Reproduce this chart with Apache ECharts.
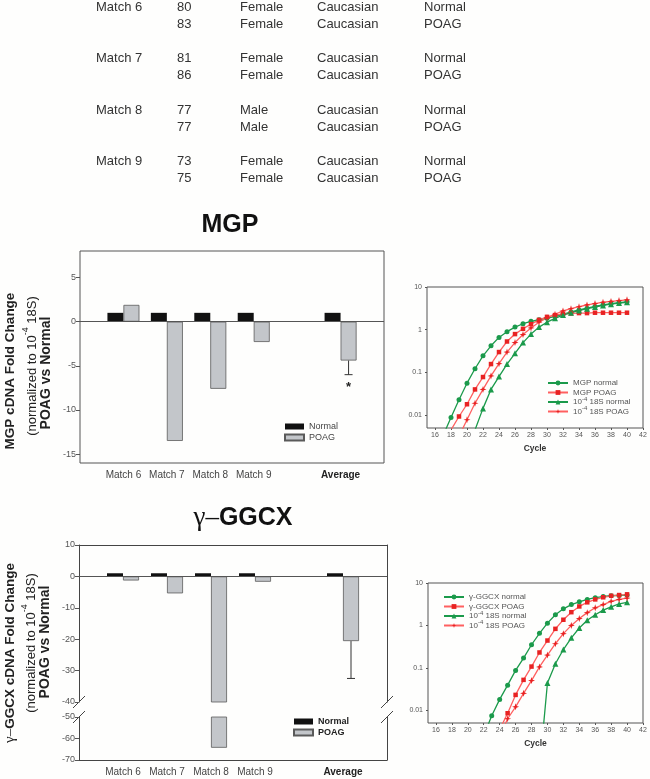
<!DOCTYPE html>
<html><head><meta charset="utf-8">
<script src="https://cdn.jsdelivr.net/npm/echarts@6/dist/echarts.min.js"></script>
<style>html,body{margin:0;padding:0;background:#fefefd;} #c{width:650px;height:779px;}</style>
</head><body><div id="c"></div>
<script>
// ---------- DATA ----------
const tableMatch = ['Match 6', 'Match 7', 'Match 8', 'Match 9'];
const tableAge = [[80, 83], [81, 86], [77, 77], [73, 75]];
const tableSex = [['Female', 'Female'], ['Female', 'Female'], ['Male', 'Male'], ['Female', 'Female']];
const tableRace = [['Caucasian', 'Caucasian'], ['Caucasian', 'Caucasian'], ['Caucasian', 'Caucasian'], ['Caucasian', 'Caucasian']];
const tableStatus = [['Normal', 'POAG'], ['Normal', 'POAG'], ['Normal', 'POAG'], ['Normal', 'POAG']];

const barCategories = ['', 'Match 6', 'Match 7', 'Match 8', 'Match 9', '', 'Average', ''];
const mgpNormal = [null, 1, 1, 1, 1, null, 1, null];
const mgpPOAG = [null, 1.9, -13.5, -7.6, -2.3, null, -4.4, null];
const mgpPOAGErr = [null, null, null, null, null, null, 1.6, null];
const mgpSignif = ['', '', '', '', '', '', '*', ''];
const mgpYTicks = [-15, -10, -5, 0, 5];

const ggcxNormal = [null, 1, 1, 1, 1, null, 1, null];
const ggcxPOAG = [null, -1.3, -5.4, -64.3, -1.7, null, -20.6, null];
const ggcxPOAGErr = [null, null, null, null, null, null, 11.9, null];
const ggcxSignif = ['', '', '', '', '', '', '', ''];

const cycles = [16, 17, 18, 19, 20, 21, 22, 23, 24, 25, 26, 27, 28, 29, 30, 31, 32, 33, 34, 35, 36, 37, 38, 39, 40];
const cycleTicks = [16, 18, 20, 22, 24, 26, 28, 30, 32, 34, 36, 38, 40, 42];
// MGP qPCR
const mgpQNormal = [0.0012, 0.0033, 0.0088, 0.023, 0.056, 0.122, 0.245, 0.42, 0.66, 0.9, 1.15, 1.38, 1.57, 1.71, 1.85, 2.05, 2.3, 2.6, 2.9, 3.2, 3.5, 3.8, 4.05, 4.3, 4.5];
const mgpQPOAG = [null, 0.0022, 0.0045, 0.0093, 0.018, 0.04, 0.078, 0.157, 0.3, 0.53, 0.79, 1.05, 1.35, 1.7, 2.0, 2.2, 2.35, 2.4, 2.45, 2.45, 2.5, 2.5, 2.5, 2.5, 2.5];
const mgp18SNormal = [null, null, null, null, null, 0.0045, 0.0144, 0.04, 0.08, 0.157, 0.28, 0.5, 0.79, 1.15, 1.5, 1.85, 2.2, 2.5, 2.8, 3.1, 3.4, 3.7, 3.95, 4.2, 4.4];
const mgp18SPOAG = [null, null, null, 0.0032, 0.0078, 0.019, 0.04, 0.083, 0.16, 0.3, 0.5, 0.77, 1.1, 1.5, 1.9, 2.3, 2.75, 3.1, 3.45, 3.8, 4.1, 4.4, 4.6, 4.8, 5.0];
// GGCX qPCR
const ggcxQNormal = [null, null, null, null, null, null, 0.0025, 0.0074, 0.018, 0.039, 0.087, 0.17, 0.35, 0.65, 1.13, 1.78, 2.46, 3.1, 3.6, 4.1, 4.5, 4.8, 5.0, 5.1, 5.2];
const ggcxQPOAG = [null, null, null, null, null, null, null, null, 0.0035, 0.0085, 0.023, 0.052, 0.107, 0.23, 0.44, 0.83, 1.36, 2.05, 2.8, 3.5, 4.1, 4.6, 5.0, 5.2, 5.4];
const ggcx18SNormal = [null, null, null, null, null, null, null, null, null, null, null, null, null, 0.0004, 0.044, 0.125, 0.27, 0.51, 0.87, 1.32, 1.78, 2.3, 2.75, 3.2, 3.5];
const ggcx18SPOAG = [null, null, null, null, null, null, null, null, 0.0024, 0.0063, 0.012, 0.025, 0.05, 0.105, 0.2, 0.37, 0.64, 1.0, 1.45, 2.0, 2.6, 3.1, 3.7, 4.1, 4.4];

// ---------- LAYOUT / STYLE ----------
const FONT = '"Liberation Sans", Arial, Helvetica, sans-serif';
const BAR_W = 16;
const G0 = {left: 80, top: 251, width: 304, height: 212};
const G1 = {left: 427, top: 287, width: 216, height: 141};
const G2 = {left: 79, top: 545, width: 308, height: 157};
const G3 = {left: 79, top: 717, width: 308, height: 43};
const G4 = {left: 428, top: 583, width: 215, height: 140};
const GREEN = '#1b9a4b', RED_LINE = '#ff6060', RED_MARK = '#e82222';
const STAR = 'path://M0,-5L1.2,-1.2L5,0L1.2,1.2L0,5L-1.2,1.2L-5,0L-1.2,-1.2Z';

const chart = echarts.init(document.getElementById('c'), null, {width: 650, height: 779});

function barXAxis(gridIndex, opts) {
  return Object.assign({
    type: 'category', gridIndex, data: barCategories, boundaryGap: false,
    axisLine: {show: false}, axisTick: {show: false}, splitLine: {show: false},
    axisLabel: {
      show: true, interval: 0, margin: 7, fontSize: 10, color: '#444', fontFamily: FONT,
      formatter: v => v === 'Average' ? '{b|Average}' : v,
      rich: {b: {fontWeight: 'bold', fontSize: 10, color: '#222', fontFamily: FONT}}
    }
  }, opts || {});
}
function barYAxis(gridIndex, opts) {
  return Object.assign({
    type: 'value', gridIndex, splitLine: {show: false},
    axisLine: {show: true, lineStyle: {color: '#444', width: 1}},
    axisTick: {show: true, length: 4, lineStyle: {color: '#555'}},
    axisLabel: {fontSize: 9, color: '#555', margin: 4, fontFamily: FONT}
  }, opts || {});
}
function qXAxis(gridIndex) {
  return {
    type: 'value', gridIndex, min: 15, max: 42,
    axisLine: {show: false}, splitLine: {show: false},
    axisTick: {show: true, length: 2, customValues: cycleTicks, lineStyle: {color: '#555'}},
    axisLabel: {customValues: cycleTicks, fontSize: 7, color: '#555', margin: 4, fontFamily: FONT},
    name: 'Cycle', nameLocation: 'middle', nameGap: 16,
    nameTextStyle: {fontWeight: 'bold', fontSize: 8.5, color: '#333', fontFamily: FONT}
  };
}
function qYAxis(gridIndex) {
  return {
    type: 'log', logBase: 10, gridIndex, min: 0.005, max: 10,
    axisLine: {show: false}, splitLine: {show: false}, minorTick: {show: false},
    axisTick: {show: true, length: 2, lineStyle: {color: '#555'}},
    axisLabel: {fontSize: 7, color: '#555', margin: 5, fontFamily: FONT, showMinLabel: false,
      formatter: v => String(+Number(v).toPrecision(3))}
  };
}

function errSeries(xi, yi, vals, errs, sig) {
  const data = [];
  vals.forEach((v, i) => { if (errs[i] != null) data.push([i, v, errs[i], sig[i]]); });
  return {
    type: 'custom', xAxisIndex: xi, yAxisIndex: yi, z: 5, silent: true,
    data,
    renderItem: (params, api) => {
      const top = api.coord([api.value(0), api.value(1)]);
      const bot = api.coord([api.value(0), api.value(1) - api.value(2)]);
      const cx = top[0] + BAR_W / 2;
      const children = [
        {type: 'line', shape: {x1: cx, y1: top[1], x2: cx, y2: bot[1]}, style: {stroke: '#333', lineWidth: 1}},
        {type: 'line', shape: {x1: cx - 4, y1: bot[1], x2: cx + 4, y2: bot[1]}, style: {stroke: '#333', lineWidth: 1}}
      ];
      const s = data[params.dataIndex][3];
      if (s) children.push({type: 'text', x: cx, y: bot[1] + 13, style: {text: s, fill: '#222', fontSize: 13, fontWeight: 'bold', fontFamily: FONT, align: 'center', verticalAlign: 'middle', textAlign: 'center', textVerticalAlign: 'middle'}});
      return {type: 'group', children};
    }
  };
}

function barSeries(name, xi, yi, data, isPOAG, withZero) {
  const s = {
    type: 'bar', name, xAxisIndex: xi, yAxisIndex: yi, data, barWidth: BAR_W, barGap: '0%',
    clip: true, silent: true,
    itemStyle: isPOAG ? {color: '#c3c6ca', borderColor: '#5a5a5a', borderWidth: 0.8} : {color: '#111'}
  };
  if (withZero) s.markLine = {silent: true, symbol: 'none', label: {show: false},
    lineStyle: {color: '#555', width: 1.2, type: 'solid'}, data: [{yAxis: 0}], animation: false};
  return s;
}

function qSeries(name, xi, yi, vals, kind) {
  const isRed = kind === 'square' || kind === 'star';
  const sym = {circle: 'circle', square: 'rect', tri: 'triangle', star: STAR}[kind];
  const size = {circle: 5, square: 4.5, tri: 6, star: 7}[kind];
  const data = [];
  cycles.forEach((c, i) => { if (vals[i] != null) data.push([c, vals[i]]); });
  return {
    type: 'line', name, xAxisIndex: xi, yAxisIndex: yi, data, clip: true, silent: true,
    symbol: sym, symbolSize: size, showAllSymbol: true,
    lineStyle: {color: isRed ? RED_LINE : GREEN, width: 1.3},
    itemStyle: {color: isRed ? RED_MARK : GREEN}
  };
}

const legendSup = {
  fontSize: 8, color: '#555', fontFamily: FONT, lineHeight: 12,
  rich: {sup: {fontSize: 6, lineHeight: 6, verticalAlign: 'top', color: '#555', fontFamily: FONT}}
};
const legendFmt = n => n.indexOf('18S') === 0 ? '10{sup|-4} ' + n : n;

// ---------- GRAPHICS ----------
const graphics = [];
function txt(x, y, text, extra, elExtra) {
  graphics.push(Object.assign({type: 'text', x, y, silent: true,
    style: Object.assign({text, fill: '#333', fontSize: 13, fontFamily: FONT,
      align: 'left', verticalAlign: 'middle', textAlign: 'left', textVerticalAlign: 'middle'}, extra || {})}, elExtra || {}));
}
const tableCols = [96, 177, 240, 317, 424];
tableMatch.forEach((m, i) => {
  const y0 = 7 + i * 51.6;
  txt(tableCols[0], y0, m);
  for (let r = 0; r < 2; r++) {
    const y = y0 + r * 17;
    txt(tableCols[1], y, String(tableAge[i][r]));
    txt(tableCols[2], y, tableSex[i][r]);
    txt(tableCols[3], y, tableRace[i][r]);
    txt(tableCols[4], y, tableStatus[i][r]);
  }
});
const center = {align: 'center', textAlign: 'center'};
// Titles
txt(230, 225, 'MGP', Object.assign({fontSize: 25, fontWeight: 'bold', fill: '#111'}, center));
txt(243, 518, '{g|γ–}{b|GGCX}', Object.assign({fill: '#111', rich: {
  g: {fontSize: 27, fontFamily: '"Liberation Serif", "DejaVu Serif", serif', fill: '#111'},
  b: {fontSize: 25, fontWeight: 'bold', fontFamily: FONT, fill: '#111'}}}, center));
// Y axis titles (rotated)
const rot = {rotation: Math.PI / 2};
const supRich = {
  n: {fontSize: 13, lineHeight: 22, fontFamily: FONT, fill: '#222', verticalAlign: 'middle'},
  sup: {fontSize: 9, lineHeight: 9, fontFamily: FONT, fill: '#222', verticalAlign: 'top'}
};
function yTitle(cx1, cy1, line1Rich, cx2, cy2, cx3, cy3) {
  txt(cx1, cy1, line1Rich, Object.assign({fill: '#222', rich: {
    b: {fontSize: 13.5, fontWeight: 'bold', fontFamily: FONT, fill: '#222'},
    g: {fontSize: 15, fontFamily: '"Liberation Serif", "DejaVu Serif", serif', fill: '#222'}}}, center), rot);
  txt(cx2, cy2, '{n|(normalized to 10}{sup|-4}{n| 18S)}', Object.assign({fill: '#222', rich: supRich}, center), rot);
  txt(cx3, cy3, 'POAG vs Normal', Object.assign({fontSize: 14, fontWeight: 'bold', fill: '#222'}, center), rot);
}
yTitle(10, 371, '{b|MGP cDNA Fold Change}', 32, 366, 46, 373);
yTitle(10, 653, '{g|γ–}{b|GGCX cDNA Fold Change}', 31, 643, 45, 642);
// axis break marks
[G2.left, G2.left + G2.width].forEach(x => {
  [G2.top + G2.height, G3.top].forEach(y => {
    graphics.push({type: 'line', silent: true, shape: {x1: x - 6, y1: y + 6, x2: x + 6, y2: y - 6},
      style: {stroke: '#444', lineWidth: 1}});
  });
});

// ---------- OPTION ----------
const option = {
  animation: false,
  backgroundColor: '#fefefd',
  textStyle: {fontFamily: FONT},
  grid: [
    Object.assign({show: true, borderColor: '#555', borderWidth: 1, backgroundColor: 'transparent', outerBoundsMode: 'none', containLabel: false}, G0),
    Object.assign({show: true, borderColor: '#555', borderWidth: 1, backgroundColor: 'transparent', outerBoundsMode: 'none', containLabel: false}, G1),
    Object.assign({show: false, outerBoundsMode: 'none', containLabel: false}, G2),
    Object.assign({show: false, outerBoundsMode: 'none', containLabel: false}, G3),
    Object.assign({show: true, borderColor: '#555', borderWidth: 1, backgroundColor: 'transparent', outerBoundsMode: 'none', containLabel: false}, G4)
  ],
  xAxis: [
    barXAxis(0),
    qXAxis(1),
    barXAxis(2, {position: 'top', axisLabel: {show: false}, axisLine: {show: true, onZero: false, lineStyle: {color: '#444'}}}),
    barXAxis(3, {position: 'bottom', axisLine: {show: true, onZero: false, lineStyle: {color: '#444'}}}),
    qXAxis(4)
  ],
  yAxis: [
    barYAxis(0, {min: -16, max: 8, axisLine: {show: false},
      axisTick: {show: true, length: 4, customValues: mgpYTicks, lineStyle: {color: '#555'}},
      axisLabel: {customValues: mgpYTicks, fontSize: 9, color: '#555', margin: 4, fontFamily: FONT}}),
    qYAxis(1),
    barYAxis(2, {min: -40, max: 10, interval: 10}),
    barYAxis(3, {min: -70, max: -50, interval: 10}),
    qYAxis(4),
    barYAxis(2, {min: -40, max: 10, interval: 10, position: 'right', axisTick: {show: false}, axisLabel: {show: false}}),
    barYAxis(3, {min: -70, max: -50, interval: 10, position: 'right', axisTick: {show: false}, axisLabel: {show: false}})
  ],
  legend: [
    {data: ['Normal', 'POAG'], left: 284, top: 421, orient: 'vertical', itemWidth: 19, itemHeight: 6, itemGap: 0,
      padding: 0, selectedMode: false, icon: 'rect', textStyle: {fontSize: 9, color: '#444', lineHeight: 11, fontFamily: FONT}},
    {data: ['Normal', 'POAG'], left: 293, top: 716, orient: 'vertical', itemWidth: 19, itemHeight: 6, itemGap: 0,
      padding: 0, selectedMode: false, icon: 'rect', textStyle: {fontSize: 9, fontWeight: 'bold', color: '#222', lineHeight: 11, fontFamily: FONT}},
    {data: ['MGP normal', 'MGP POAG', '18S normal', '18S POAG'], left: 547, top: 377, orient: 'vertical',
      itemWidth: 20, itemHeight: 6, itemGap: -2.5, padding: 0, selectedMode: false, textStyle: legendSup, formatter: legendFmt},
    {data: ['γ-GGCX normal', 'γ-GGCX POAG', '18S normal', '18S POAG'], left: 443, top: 591, orient: 'vertical',
      itemWidth: 20, itemHeight: 6, itemGap: -2.5, padding: 0, selectedMode: false, textStyle: legendSup, formatter: legendFmt}
  ],
  series: [
    barSeries('Normal', 0, 0, mgpNormal, false, false),
    barSeries('POAG', 0, 0, mgpPOAG, true, true),
    errSeries(0, 0, mgpPOAG, mgpPOAGErr, mgpSignif),
    barSeries('Normal', 2, 2, ggcxNormal, false, false),
    barSeries('POAG', 2, 2, ggcxPOAG, true, true),
    errSeries(2, 2, ggcxPOAG, ggcxPOAGErr, ggcxSignif),
    barSeries('Normal', 3, 3, ggcxNormal, false, false),
    barSeries('POAG', 3, 3, ggcxPOAG, true, false),
    qSeries('MGP normal', 1, 1, mgpQNormal, 'circle'),
    qSeries('MGP POAG', 1, 1, mgpQPOAG, 'square'),
    qSeries('18S normal', 1, 1, mgp18SNormal, 'tri'),
    qSeries('18S POAG', 1, 1, mgp18SPOAG, 'star'),
    qSeries('γ-GGCX normal', 4, 4, ggcxQNormal, 'circle'),
    qSeries('γ-GGCX POAG', 4, 4, ggcxQPOAG, 'square'),
    qSeries('18S normal', 4, 4, ggcx18SNormal, 'tri'),
    qSeries('18S POAG', 4, 4, ggcx18SPOAG, 'star')
  ],
  graphic: {elements: graphics}
};
chart.setOption(option);
</script>
</body></html>
